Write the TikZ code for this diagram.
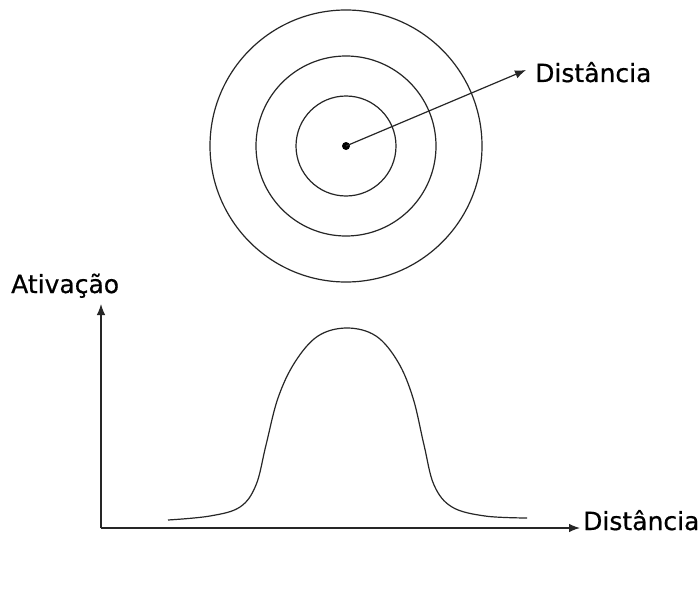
\documentclass[tikz,border=0pt]{standalone}
\usepackage{fontspec}
\setmainfont{DejaVu Sans}[FakeBold=0.6]
\usetikzlibrary{arrows.meta}
\begin{document}
\begin{tikzpicture}[x=1pt,y=-1pt,
  ln/.style={line width=1.2pt,black!85},
  arr/.style={ln,-{Latex[length=11pt,width=8.5pt]}},
  lbl/.style={font=\fontsize{25}{27}\selectfont,inner sep=0pt,anchor=base west}]
\useasboundingbox[fill=white] (0,0) rectangle (700,599);
% circles
\coordinate (c) at (346,146);
\draw[ln] (c) circle[radius=136];
\draw[ln] (c) circle[radius=90];
\draw[ln] (c) circle[radius=50];
\node[circle,fill=black,inner sep=0pt,minimum size=8pt] (dot) at (c) {};
\node[lbl] (d1) at (535,82) {Distância};
\coordinate (a1) at (526,70);
\draw[arr] (dot.center) -- (a1);
% axes
\coordinate (o) at (101,528);
\coordinate (ytop) at (101,304);
\coordinate (xend) at (580,528);
\draw[arr] (o) -- (ytop);
\draw[arr] (o) -- (xend);
\node[lbl] (ya) at (11,293) {Ativação};
\node[lbl] (xa) at (583,530) {Distância};
% bell curve
\draw[ln] plot[smooth,tension=0.6] coordinates {(168,520) (210,516) (240,507) (256,485) (266,445) (278,398) (295,362) (318,336) (347,328) (376,336) (398,362) (413,398) (424,445) (434,485) (452,507) (485,516) (527,518)};
\end{tikzpicture}
\end{document}
